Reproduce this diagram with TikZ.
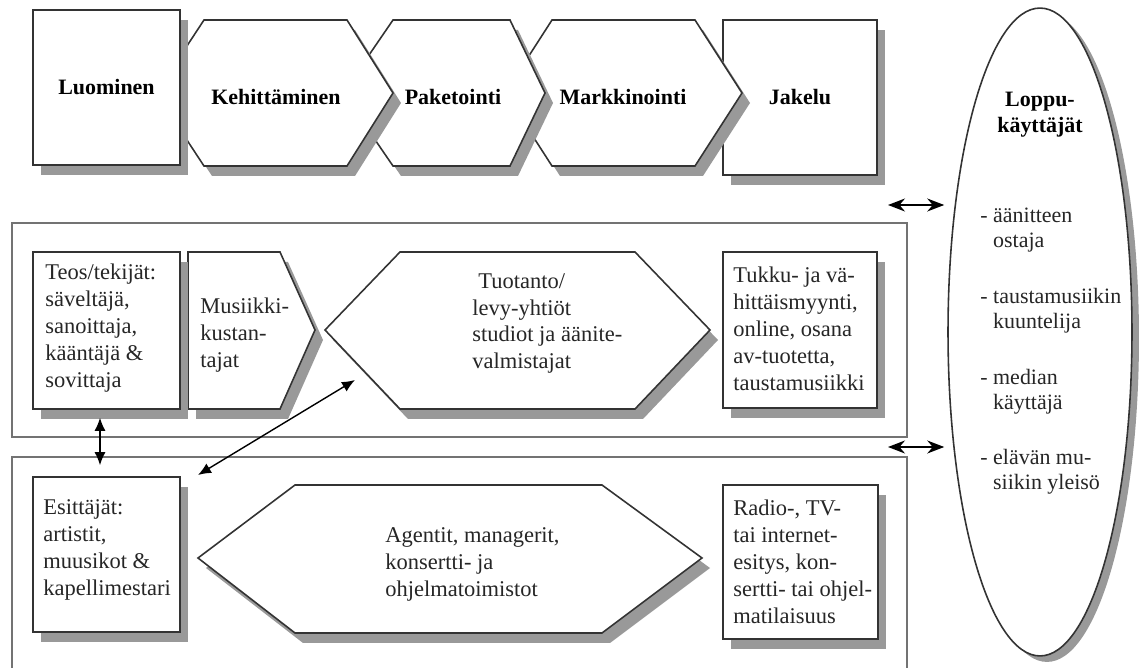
\documentclass[tikz,border=0pt]{standalone}
\usepackage{fontspec}
\setmainfont{Liberation Serif}
\usetikzlibrary{arrows.meta,shapes.geometric}
\hyphenpenalty=10000
% outline with a grey shadow below right
\newcommand{\shadowpoly}[1]{\fill[shd, shift={(8,10)}] #1; \draw[blk] #1;}

\begin{document}
\begin{tikzpicture}[x=0.02cm, y=-0.02cm,
    shd/.style={fill=black!40},
    blk/.style={draw=black!80, fill=white, line width=0.9pt, line join=miter},
    box/.style={blk, rectangle, minimum width=2.94cm, minimum height=3.1cm},
    phase/.style={font={\fontsize{12.5}{15}\selectfont\bfseries}},
    txt/.style={anchor=west, align=left, inner sep=0pt, text=black!85,
      font={\fontsize{12.8}{15.3}\selectfont}},
    panel/.style={draw=black!55, line width=1.1pt},
    link/.style={{Latex[length=0.26cm,width=0.22cm]}-{Latex[length=0.26cm,width=0.22cm]}, line width=0.8pt},
    user/.style={{Stealth[length=0.34cm,width=0.26cm]}-{Stealth[length=0.34cm,width=0.26cm]}, line width=0.8pt}
  ]
  \useasboundingbox (0,0) rectangle (1140,668);
  \clip (0,0) rectangle (1140,668);

  % panels
  \draw[panel] (12,223) rectangle (907,437);
  \draw[panel] (12,457) rectangle (907,720);

  % value chain, right to left
  \fill[shd] (731,30) rectangle (885,185);
  \node[box, phase, minimum width=3.08cm] (jakelu) at (800,97.5) {Jakelu};
  \shadowpoly{(505,93) -- (552,20) -- (695,20) -- (742,93) -- (695,166) -- (552,166) -- cycle}
  \shadowpoly{(343,93) -- (393,20) -- (510,20) -- (545,93) -- (510,166) -- (393,166) -- cycle}
  \shadowpoly{(156,93) -- (204,20) -- (347,20) -- (393,93) -- (347,166) -- (204,166) -- cycle}
  \fill[shd] (41,20) rectangle (188,175);
  \node[box, phase] (luominen) at (106.5,87.5) {Luominen};
  \node[phase] (kehitys) at (276,97) {Kehittäminen};
  \node[phase] (paketointi) at (453,97) {Paketointi};
  \node[phase] (markkinointi) at (623,97) {Markkinointi};

  % recordings
  \fill[shd] (731,262) rectangle (885,418);
  \node[box, minimum width=3.08cm, minimum height=3.12cm] (tukku) at (800,330) {};
  \shadowpoly{(325,330) -- (400,252) -- (635,252) -- (710,330) -- (635,409) -- (400,409) -- cycle}
  \shadowpoly{(188,252) -- (280,252) -- (315,330) -- (280,409) -- (188,409) -- cycle}
  \fill[shd] (41,262) rectangle (188,419);
  \node[box, minimum height=3.14cm] (teos) at (106.5,330.5) {};
  \node[txt] (teosT) at (45,328) {Teos/tekijät:\\säveltäjä,\\sanoittaja,\\kääntäjä \&\\sovittaja};
  \node[txt] (kustT) at (200,335) {Musiikki-\\kustan-\\tajat};
  \node[txt] (tuotT) at (472,323.5) {\hspace{0.12cm}Tuotanto/\\levy-yhtiöt\\studiot ja äänite-\\valmistajat};
  \node[txt] (tukkuT) at (733,329) {Tukku- ja vä-\\hittäismyynti,\\online, osana\\av-tuotetta,\\taustamusiikki};

  % live music
  \fill[shd] (731,495) rectangle (886,649);
  \node[box, minimum width=3.1cm, minimum height=3.08cm] (radio) at (800.5,562) {};
  \shadowpoly{(198,558) -- (295,485) -- (602,485) -- (702,558) -- (602,633) -- (295,633) -- cycle}
  \fill[shd] (41,487) rectangle (188,642);
  \node[box] (esit) at (106.5,554.5) {};
  \node[txt] (esitT) at (43,550) {Esittäjät:\\artistit,\\muusikot \&\\kapellimestari};
  \node[txt] (agentT) at (385,564.5) {Agentit, managerit,\\konsertti- ja\\ohjelmatoimistot};
  \node[txt] (radioT) at (733,562) {Radio-, TV-\\tai internet-\\esitys, kon-\\sertti- tai ohjel-\\matilaisuus};

  % end users
  \fill[shd] (1047,338) ellipse [x radius=1.84cm, y radius=6.48cm];
  \node[blk, ellipse, minimum width=3.68cm, minimum height=12.96cm] (users) at (1040,332) {};
  \node[phase, align=center] (usersT) at (1040,115) {Loppu-\\käyttäjät};
  \node[txt, font={\fontsize{12.5}{14.2}\selectfont}] (usersL) at (980,351.5)
    {- äänitteen\\\phantom{- }ostaja\\[17.5pt]- taustamusiikin\\\phantom{- }kuuntelija\\[17.5pt]- median\\\phantom{- }käyttäjä\\[17.5pt]- elävän mu-\\\phantom{- }siikin yleisö};

  % connectors
  \coordinate (u1) at (888,205);
  \coordinate (u2) at (888,447);
  \coordinate (prodlow) at (355,380);
  \coordinate (perfhigh) at (198,475);
  \draw[user, shorten >=0.06cm] (u1) -- (u1 -| users.west);
  \draw[user, shorten >=0.06cm] (u2) -- (u2 -| users.west);
  \draw[link, shorten <=0.16cm, shorten >=0.22cm] ([xshift=-0.13cm]teos.south) -- ([xshift=-0.13cm]esit.north);
  \draw[link] (prodlow) -- (perfhigh);
\end{tikzpicture}
\end{document}
